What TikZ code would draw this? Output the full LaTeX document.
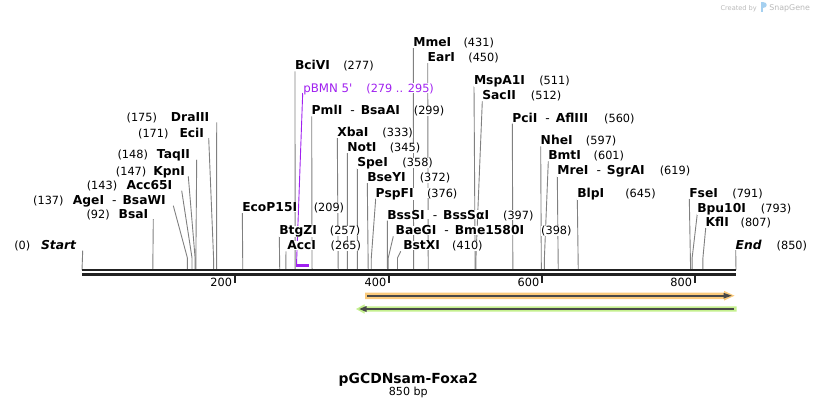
\documentclass[tikz,border=0pt]{standalone}
\usepackage{fontspec}
\setmainfont{DejaVu Sans}
\usepackage{tikz}
\usetikzlibrary{positioning, backgrounds}

\definecolor{sitegray}{RGB}{128,128,128}
\definecolor{featpurple}{RGB}{160,32,240}
\definecolor{orlight}{RGB}{250,202,124}
\definecolor{grlight}{RGB}{196,240,142}
\definecolor{featdark}{RGB}{72,72,72}
\definecolor{bbgray}{RGB}{34,34,34}
\definecolor{wmgray}{RGB}{185,185,185}
\definecolor{wmblue}{RGB}{165,208,240}

\newcommand{\enzdash}{\hspace{8pt}{\mdseries -}\hspace{6pt}}

\begin{document}
\begin{tikzpicture}[x=1pt, y=-1pt,
  every node/.style={inner sep=0pt, outer sep=0pt},
  enz/.style={font=\fontsize{12.3}{14}\selectfont\bfseries, fill=white},
  bpnum/.style={font=\fontsize{11.3}{13}\selectfont, fill=white},
  site/.style={draw=sitegray, line width=0.9pt}
]
  \useasboundingbox (0,0) rectangle (818,408);

  % sites on the sequence
  \foreach \p in {0,92,137,143,147,148,171,175,209,257,265,277,279,295,299,
    333,345,358,372,376,397,398,410,431,450,511,512,560,597,601,619,645,
    791,793,807,850}
    \coordinate (s\p) at ({82+0.7694*\p},270);

  % backbone and ruler
  \draw[bbgray, line width=2pt] (s0) -- (s850);
  \draw[bbgray, line width=2.6pt] ([yshift=-4.5pt]s0) -- ([yshift=-4.5pt]s850);
  \foreach \t/\x in {200/235,400/389.3,600/542.3,800/695}{
    \coordinate (t\t) at (\x,274);
    \draw[bbgray, line width=2pt] (t\t) -- ++(0,8.7);
    \node[bpnum, anchor=base east] (tl\t) at ([xshift=-3pt,yshift=-12pt]t\t) {\t};
  }

  % left side labels
  \node[enz, font=\fontsize{12.3}{14}\selectfont\bfseries\itshape, anchor=base east] (start) at (76,249.7) {Start};
  \node[bpnum, left=10.7pt of start.base west, anchor=base east] (startpos) {(0)};
  \node[enz, anchor=base east] (bsaI) at (148.3,218) {BsaI};
  \node[bpnum, left=9pt of bsaI.base west, anchor=base east] (bsaIpos) {(92)};
  \node[enz, anchor=base east] (ageI) at (165.7,204.7) {AgeI\enzdash BsaWI};
  \node[bpnum, left=9.3pt of ageI.base west, anchor=base east] (ageIpos) {(137)};
  \node[enz, anchor=base east] (acc65I) at (172.3,189.7) {Acc65I};
  \node[bpnum, left=9.3pt of acc65I.base west, anchor=base east] (acc65Ipos) {(143)};
  \node[enz, anchor=base east] (kpnI) at (185,175.4) {KpnI};
  \node[bpnum, left=7pt of kpnI.base west, anchor=base east] (kpnIpos) {(147)};
  \node[enz, anchor=base east] (taqII) at (190,158.7) {TaqII};
  \node[bpnum, left=9pt of taqII.base west, anchor=base east] (taqIIpos) {(148)};
  \node[enz, anchor=base east] (eciI) at (204,137) {EciI};
  \node[bpnum, left=11pt of eciI.base west, anchor=base east] (eciIpos) {(171)};
  \node[enz, anchor=base east] (draIII) at (209.3,121.4) {DraIII};
  \node[bpnum, left=14pt of draIII.base west, anchor=base east] (draIIIpos) {(175)};

  % right side labels
  \node[enz, anchor=base west] (ecoP15I) at (242.3,211.4) {EcoP15I};
  \node[bpnum, right=16.6pt of ecoP15I.base east, anchor=base west] (ecoP15Ipos) {(209)};
  \node[enz, anchor=base west] (btgZI) at (279.3,234.7) {BtgZI};
  \node[bpnum, right=13pt of btgZI.base east, anchor=base west] (btgZIpos) {(257)};
  \node[enz, anchor=base west] (accI) at (287.3,249.7) {AccI};
  \node[bpnum, right=14.7pt of accI.base east, anchor=base west] (accIpos) {(265)};
  \node[enz, anchor=base west] (bciVI) at (295,69.7) {BciVI};
  \node[bpnum, right=13.3pt of bciVI.base east, anchor=base west] (bciVIpos) {(277)};
  \node[font=\fontsize{11.8}{14}\selectfont, text=featpurple, fill=white, anchor=base west] (pbmn) at (303.3,92) {pBMN 5\textquotesingle};
  \node[bpnum, text=featpurple, right=14pt of pbmn.base east, anchor=base west] (pbmnpos) {(279 .. 295)};
  \node[enz, anchor=base west] (pmlI) at (311.7,114.7) {PmlI\enzdash BsaAI};
  \node[bpnum, right=14pt of pmlI.base east, anchor=base west] (pmlIpos) {(299)};
  \node[enz, anchor=base west] (xbaI) at (337.3,136.4) {XbaI};
  \node[bpnum, right=14pt of xbaI.base east, anchor=base west] (xbaIpos) {(333)};
  \node[enz, anchor=base west] (notI) at (347.3,151.4) {NotI};
  \node[bpnum, right=13.3pt of notI.base east, anchor=base west] (notIpos) {(345)};
  \node[enz, anchor=base west] (speI) at (357.3,166.4) {SpeI};
  \node[bpnum, right=14.6pt of speI.base east, anchor=base west] (speIpos) {(358)};
  \node[enz, anchor=base west] (bseYI) at (367.3,181.4) {BseYI};
  \node[bpnum, right=14pt of bseYI.base east, anchor=base west] (bseYIpos) {(372)};
  \node[enz, anchor=base west] (pspFI) at (375.7,197) {PspFI};
  \node[bpnum, right=13.4pt of pspFI.base east, anchor=base west] (pspFIpos) {(376)};
  \node[enz, anchor=base west] (bssSI) at (387.3,219) {BssSI\enzdash BssSαI};
  \node[bpnum, right=14pt of bssSI.base east, anchor=base west] (bssSIpos) {(397)};
  \node[enz, anchor=base west] (baeGI) at (395.7,234.7) {BaeGI\enzdash Bme1580I};
  \node[bpnum, right=17pt of baeGI.base east, anchor=base west] (baeGIpos) {(398)};
  \node[enz, anchor=base west] (bstXI) at (403.3,249.7) {BstXI};
  \node[bpnum, right=12.3pt of bstXI.base east, anchor=base west] (bstXIpos) {(410)};
  \node[enz, anchor=base west] (mmeI) at (413.3,46.4) {MmeI};
  \node[bpnum, right=12.3pt of mmeI.base east, anchor=base west] (mmeIpos) {(431)};
  \node[enz, anchor=base west] (earI) at (427.7,61.4) {EarI};
  \node[bpnum, right=13.3pt of earI.base east, anchor=base west] (earIpos) {(450)};
  \node[enz, anchor=base west] (mspA1I) at (474,84.7) {MspA1I};
  \node[bpnum, right=14.3pt of mspA1I.base east, anchor=base west] (mspA1Ipos) {(511)};
  \node[enz, anchor=base west] (sacII) at (482.3,99.7) {SacII};
  \node[bpnum, right=15pt of sacII.base east, anchor=base west] (sacIIpos) {(512)};
  \node[enz, anchor=base west] (pciI) at (512.3,122) {PciI\enzdash AflIII};
  \node[bpnum, right=16pt of pciI.base east, anchor=base west] (pciIpos) {(560)};
  \node[enz, anchor=base west] (nheI) at (540.7,144.7) {NheI};
  \node[bpnum, right=13.3pt of nheI.base east, anchor=base west] (nheIpos) {(597)};
  \node[enz, anchor=base west] (bmtI) at (548.3,159.7) {BmtI};
  \node[bpnum, right=12.7pt of bmtI.base east, anchor=base west] (bmtIpos) {(601)};
  \node[enz, anchor=base west] (mreI) at (557.3,174.7) {MreI\enzdash SgrAI};
  \node[bpnum, right=15pt of mreI.base east, anchor=base west] (mreIpos) {(619)};
  \node[enz, anchor=base west] (blpI) at (577.3,197) {BlpI};
  \node[bpnum, right=21pt of blpI.base east, anchor=base west] (blpIpos) {(645)};
  \node[enz, anchor=base west] (fseI) at (689.3,197.4) {FseI};
  \node[bpnum, right=14.4pt of fseI.base east, anchor=base west] (fseIpos) {(791)};
  \node[enz, anchor=base west] (bpu10I) at (697.3,212) {Bpu10I};
  \node[bpnum, right=15pt of bpu10I.base east, anchor=base west] (bpu10Ipos) {(793)};
  \node[enz, anchor=base west] (kflI) at (705.7,226.4) {KflI};
  \node[bpnum, right=11.7pt of kflI.base east, anchor=base west] (kflIpos) {(807)};
  \node[enz, font=\fontsize{12.3}{14}\selectfont\bfseries\itshape, anchor=base west] (finish) at (735.7,249) {End};
  \node[bpnum, right=15pt of finish.base east, anchor=base west] (finishpos) {(850)};

  % lines from labels to sites, behind the labels
  \begin{scope}[on background layer]
    \draw[site] ([xshift=6.7pt,yshift=-1pt]start.base east) -- (s0);
    \draw[site] ([xshift=5pt,yshift=-1pt]bsaI.base east) -- (s92);
    \draw[site] ([xshift=7.6pt,yshift=-1pt]ageI.base east) -- ([yshift=12pt]s137) -- (s137);
    \draw[site] ([xshift=9.4pt,yshift=-1pt]acc65I.base east) -- ([yshift=12pt]s143) -- (s143);
    \draw[site] ([xshift=3.3pt,yshift=-1pt]kpnI.base east) -- ([yshift=12pt]s147) -- (s147);
    \draw[site] ([xshift=6.7pt,yshift=-1pt]taqII.base east) -- ([yshift=12pt]s148) -- (s148);
    \draw[site] ([xshift=4.7pt,yshift=-1pt]eciI.base east) -- ([yshift=12pt]s171) -- (s171);
    \draw[site] ([xshift=7.4pt,yshift=-1pt]draIII.base east) -- (s175);

    \draw[site] ([yshift=-1.6pt]ecoP15I.base west) -- (s209);
    \draw[site] ([yshift=-1.6pt]btgZI.base west) -- (s257);
    \draw[site] ([xshift=-1.3pt,yshift=-1.6pt]accI.base west) -- ([yshift=12pt]s265) -- (s265);
    \draw[site] ([yshift=-1.6pt]bciVI.base west) -- (s277);
    \draw[featpurple, line width=0.9pt] ([xshift=-0.6pt,yshift=-1pt]pbmn.base west) -- ([yshift=10pt]s279) -- ([yshift=4.5pt]s279);
    \draw[featpurple, line width=2.5pt] ([xshift=-0.45pt,yshift=4.5pt]s279) -- ([yshift=4.5pt]s295);
    \draw[site] ([yshift=-1.6pt]pmlI.base west) -- (s299);
    \draw[site] ([yshift=-1.6pt]xbaI.base west) -- (s333);
    \draw[site] ([yshift=-1.6pt]notI.base west) -- (s345);
    \draw[site] ([yshift=-1.6pt]speI.base west) -- (s358);
    \draw[site] ([yshift=-1.6pt]bseYI.base west) -- (s372);
    \draw[site] ([yshift=-1.6pt]pspFI.base west) -- ([yshift=12pt]s376) -- (s376);
    \draw[site] ([yshift=-1.6pt]bssSI.base west) -- (s397);
    \draw[site] ([xshift=-2.4pt,yshift=-1.6pt]baeGI.base west) -- ([yshift=12pt]s398) -- (s398);
    \draw[site] ([xshift=-2.6pt,yshift=-1.6pt]bstXI.base west) -- ([yshift=12pt]s410) -- (s410);
    \draw[site] ([yshift=-1.6pt]mmeI.base west) -- (s431);
    \draw[site] ([yshift=-1.6pt]earI.base west) -- (s450);
    \draw[site] ([yshift=-1.6pt]mspA1I.base west) -- (s511);
    \draw[site] ([yshift=-1.6pt]sacII.base west) -- ([yshift=12pt]s512) -- (s512);
    \draw[site] ([yshift=-1.6pt]pciI.base west) -- (s560);
    \draw[site] ([yshift=-1.6pt]nheI.base west) -- (s597);
    \draw[site] ([yshift=-1.6pt]bmtI.base west) -- ([yshift=12pt]s601) -- (s601);
    \draw[site] ([yshift=-1.6pt]mreI.base west) -- (s619);
    \draw[site] ([yshift=-1.6pt]blpI.base west) -- (s645);
    \draw[site] ([yshift=-1.6pt]fseI.base west) -- (s791);
    \draw[site] ([yshift=-1.6pt]bpu10I.base west) -- ([yshift=12pt]s793) -- (s793);
    \draw[site] ([yshift=-1.6pt]kflI.base west) -- ([yshift=12pt]s807) -- (s807);
    \draw[site] ([yshift=-1pt]finish.base west) -- (s850);
  \end{scope}

  % features
  \fill[orlight] (365,292.5) -- (724,292.5) -- (724,290.8) -- (734.5,295.7)
    -- (724,300.6) -- (724,299) -- (365,299) -- cycle;
  \draw[featdark, line width=2pt] (367,295.7) -- (726,295.7);
  \fill[featdark] (723.5,292.8) -- (731.7,295.7) -- (723.5,298.6) -- cycle;

  \fill[grlight] (364.5,304.3) -- (356,309) -- (364.5,313.7) -- (364.5,311.5)
    -- (736.5,311.5) -- (736.5,306.3) -- (364.5,306.3) -- cycle;
  \draw[featdark, line width=2pt] (365,309) -- (734.3,309);
  \fill[featdark] (366.5,306) -- (359.3,309) -- (366.5,312) -- cycle;

  % title
  \node[font=\fontsize{13.9}{16}\selectfont\bfseries, anchor=base] (title) at (408.3,383) {pGCDNsam-Foxa2};
  \node[bpnum, font=\fontsize{11.1}{13}\selectfont, anchor=base] (length) at ([yshift=-12.7pt]title.base) {850 bp};

  % watermark
  \node[font=\fontsize{6.6}{8}\selectfont, text=wmgray, anchor=base west] (wmby) at (720.5,10) {Created by};
  \fill[wmblue] (761,1.5) rectangle (763.3,11.5);
  \fill[wmblue] (763,1.5) .. controls (768,1.5) and (768,8) .. (763,8) -- cycle;
  \node[font=\fontsize{7.9}{9}\selectfont, text=wmgray, anchor=base west] (wmsg) at (769.3,10) {SnapGene};
\end{tikzpicture}
\end{document}
